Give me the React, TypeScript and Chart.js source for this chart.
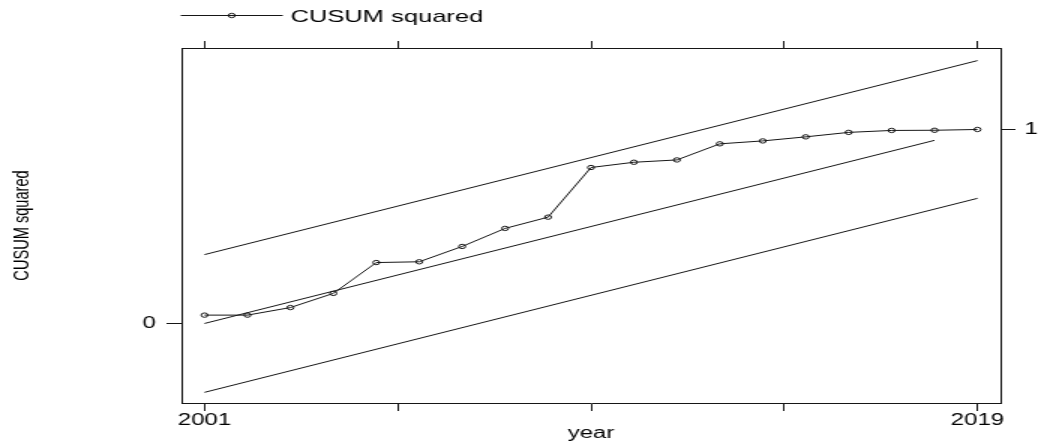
import React, { useEffect, useRef } from "react";
import { Chart, registerables } from "chart.js";

Chart.register(...registerables);

// ---- data ----
const years = [2001, 2002, 2003, 2004, 2005, 2006, 2007, 2008, 2009, 2010, 2011, 2012, 2013, 2014, 2015, 2016, 2017, 2018, 2019];
const cusumSquared = [0.043, 0.043, 0.082, 0.155, 0.314, 0.318, 0.397, 0.49, 0.548, 0.804, 0.831, 0.843, 0.926, 0.941, 0.962, 0.985, 0.995, 0.996, 1.0];
const boundYears = [2001, 2019];
const upperBound = [0.355, 1.355];
const lowerBound = [-0.355, 0.645];
const expectedYears = [2001, 2018];
const expectedValues = [0, 0.944];
const xTickValues = [2001, 2005.5, 2010, 2014.5, 2019];
const xLabeledYears = [2001, 2019];
const yLeftTicks = [0];
const yRightTicks = [1];
const seriesLabel = "CUSUM squared";
const yTitle = "CUSUM squared";
const xTitle = "year";

// ---- layout / style ----
const STRETCH = 1.5;
const W = 692;
const H = 447;
const FONT = "'Liberation Sans', Arial, Helvetica, sans-serif";
const INK = "#161616";
const TEXT = "#000000";
const X_MIN = 2000.464;
const X_MAX = 2019.536;
const Y_MIN = -0.41;
const Y_MAX = 1.42;

const legendPlugin = {
  id: "stataLegend",
  afterDraw(chart: any) {
    const ctx = chart.ctx as CanvasRenderingContext2D;
    const y = 15.5;
    ctx.save();
    ctx.strokeStyle = INK;
    ctx.lineWidth = 1;
    ctx.beginPath();
    ctx.moveTo(120.5, y);
    ctx.lineTo(188.5, y);
    ctx.stroke();
    ctx.beginPath();
    ctx.arc(154.5, y, 2.2, 0, Math.PI * 2);
    ctx.stroke();
    ctx.fillStyle = TEXT;
    ctx.font = `17px ${FONT}`;
    ctx.textBaseline = "alphabetic";
    ctx.textAlign = "left";
    ctx.fillText(seriesLabel, 193.7, 21.7);
    ctx.restore();
  },
};

const toPoints = (xs: number[], ys: number[]) => xs.map((x, i) => ({ x, y: ys[i] }));

export default function App() {
  const ref = useRef<HTMLCanvasElement>(null);

  useEffect(() => {
    const canvas = ref.current;
    if (!canvas) return;
    const grid = (len: number) => ({
      display: true,
      drawOnChartArea: false,
      drawTicks: true,
      tickLength: len,
      tickColor: INK,
      tickWidth: 1,
      color: INK,
    });
    const border = { display: true, color: INK, width: 1 };
    const tickFont = { family: FONT, size: 16 };

    const chart = new Chart(canvas, {
      type: "line",
      data: {
        datasets: [
          {
            label: "upper",
            data: toPoints(boundYears, upperBound),
            borderColor: INK,
            borderWidth: 1,
            pointRadius: 0,
            tension: 0,
          },
          {
            label: "lower",
            data: toPoints(boundYears, lowerBound),
            borderColor: INK,
            borderWidth: 1,
            pointRadius: 0,
            tension: 0,
          },
          {
            label: "expected",
            data: toPoints(expectedYears, expectedValues),
            borderColor: INK,
            borderWidth: 1,
            pointRadius: 0,
            tension: 0,
          },
          {
            label: seriesLabel,
            data: toPoints(years, cusumSquared),
            borderColor: INK,
            borderWidth: 1,
            pointRadius: 2.2,
            pointBorderWidth: 1,
            pointBorderColor: INK,
            pointBackgroundColor: "rgba(0,0,0,0)",
            tension: 0,
          },
        ],
      },
      options: {
        responsive: false,
        animation: false,
        devicePixelRatio: 1,
        events: [],
        layout: { padding: 0 },
        plugins: {
          legend: { display: false },
          tooltip: { enabled: false },
          title: { display: false },
        },
        scales: {
          x: {
            type: "linear",
            position: "bottom",
            min: X_MIN,
            max: X_MAX,
            afterBuildTicks: (s: any) => {
              s.ticks = xTickValues.map((v) => ({ value: v }));
            },
            afterFit: (s: any) => {
              s.height = 44;
            },
            grid: grid(8),
            border,
            ticks: {
              autoSkip: false,
              maxRotation: 0,
              minRotation: 0,
              padding: 0,
              color: TEXT,
              font: tickFont,
              callback: (v: any) => (xLabeledYears.includes(Number(v)) ? String(v) : ""),
            },
            title: {
              display: true,
              text: xTitle,
              color: TEXT,
              font: { family: FONT, size: 16 },
              padding: { top: 0, bottom: 4 },
            },
          },
          x2: {
            type: "linear",
            axis: "x",
            position: "top",
            min: X_MIN,
            max: X_MAX,
            afterBuildTicks: (s: any) => {
              s.ticks = xTickValues.map((v) => ({ value: v }));
            },
            afterFit: (s: any) => {
              s.height = 48;
            },
            grid: grid(7),
            border,
            ticks: {
              autoSkip: false,
              maxRotation: 0,
              minRotation: 0,
              padding: 0,
              font: tickFont,
              callback: () => "",
            },
          },
          y: {
            type: "linear",
            position: "left",
            min: Y_MIN,
            max: Y_MAX,
            afterBuildTicks: (s: any) => {
              s.ticks = yLeftTicks.map((v) => ({ value: v }));
            },
            afterFit: (s: any) => {
              s.width = 121;
            },
            grid: grid(10),
            border,
            ticks: {
              autoSkip: false,
              padding: 7,
              color: TEXT,
              font: tickFont,
              callback: (v: any) => String(v),
            },
            title: {
              display: true,
              text: yTitle,
              color: TEXT,
              font: { family: FONT, size: 14.6 },
              padding: { top: 6, bottom: 0 },
            },
          },
          y2: {
            type: "linear",
            axis: "y",
            position: "right",
            min: Y_MIN,
            max: Y_MAX,
            afterBuildTicks: (s: any) => {
              s.ticks = yRightTicks.map((v) => ({ value: v }));
            },
            afterFit: (s: any) => {
              s.width = 25;
            },
            grid: grid(10),
            border,
            ticks: {
              autoSkip: false,
              padding: 6,
              color: TEXT,
              font: tickFont,
              callback: (v: any) => String(v),
            },
          },
        },
      } as any,
      plugins: [legendPlugin],
    });

    return () => chart.destroy();
  }, []);

  return (
    <div
      style={{
        position: "fixed",
        left: 0,
        top: 0,
        width: W * STRETCH,
        height: H,
        background: "#fff",
        overflow: "hidden",
      }}
    >
      <div style={{ transform: `scaleX(${STRETCH})`, transformOrigin: "0 0", width: W, height: H }}>
        <canvas ref={ref} width={W} height={H} style={{ width: W, height: H, display: "block" }} />
      </div>
    </div>
  );
}
